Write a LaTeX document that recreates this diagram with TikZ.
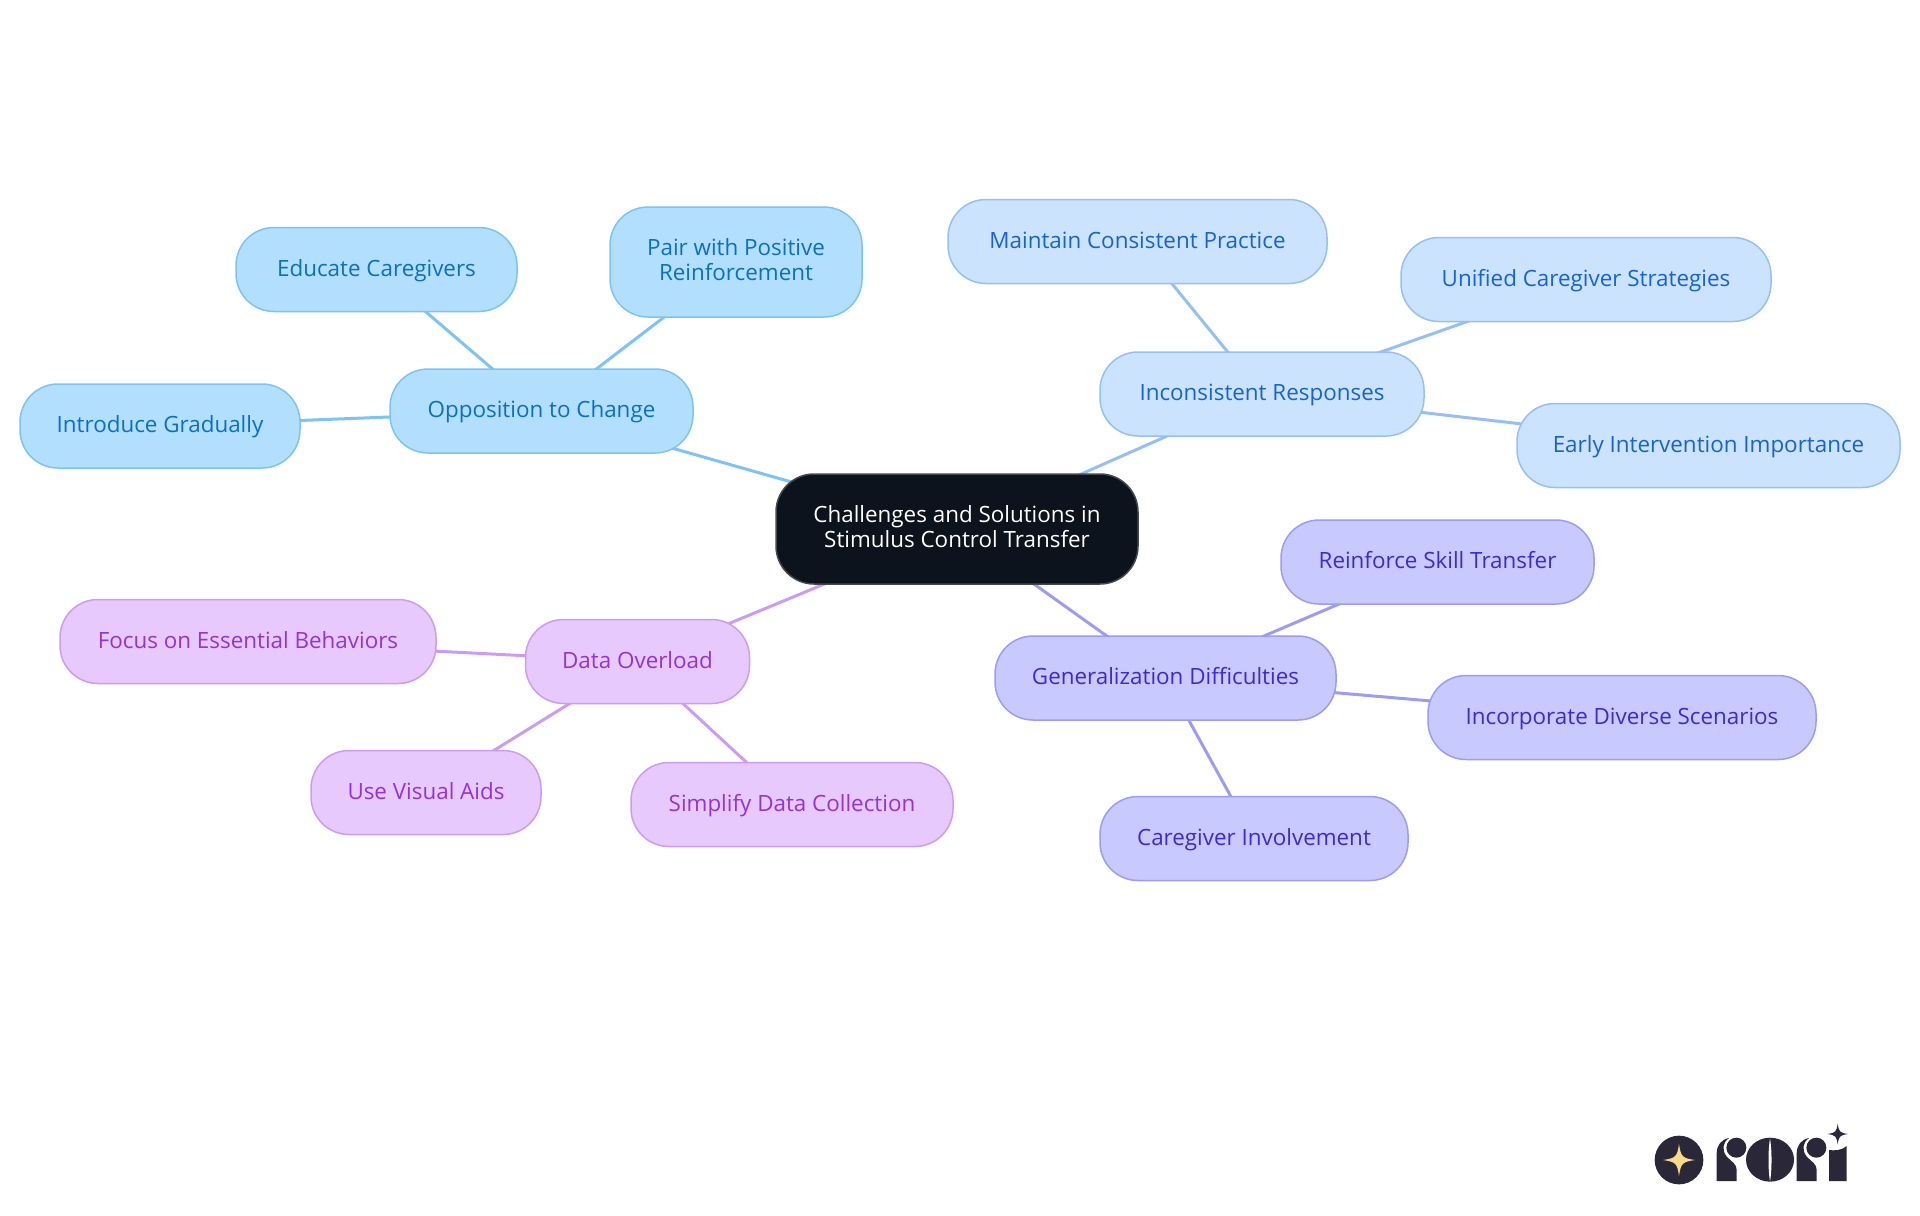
\documentclass[tikz,border=0pt]{standalone}
\usepackage{fontspec}
\setmainfont{Open Sans}
\usetikzlibrary{backgrounds}
\definecolor{sfill}{HTML}{B3DFFF}
\definecolor{sline}{HTML}{7FC3F3}
\definecolor{stext}{HTML}{0B6FC2}
\definecolor{ifill}{HTML}{CCE3FD}
\definecolor{iline}{HTML}{96C0F3}
\definecolor{itext}{HTML}{1763CF}
\definecolor{gfill}{HTML}{C8C9FE}
\definecolor{gline}{HTML}{9C9CF3}
\definecolor{gtext}{HTML}{3A2DD0}
\definecolor{dfill}{HTML}{E7C9FE}
\definecolor{dline}{HTML}{CC9CF3}
\definecolor{dtext}{HTML}{9333D8}
\definecolor{rootfill}{HTML}{0C131C}
\definecolor{rootline}{HTML}{45484D}
\definecolor{logoink}{HTML}{2A2838}
\definecolor{logostar}{HTML}{FBD98A}
\tikzset{
  mapnode/.style={rounded corners=19pt, line width=0.75pt, inner sep=0pt, align=center,
    font=\fontsize{11.2}{12.5}\selectfont, text height=8.75pt, text depth=2pt, minimum height=42pt},
  twolines/.style={text height=20.5pt, text depth=2pt, minimum height=55pt},
  rootnode/.style={mapnode, twolines, fill=rootfill, draw=rootline, text=white},
  oppnode/.style={mapnode, fill=sfill, draw=sline, text=stext},
  incnode/.style={mapnode, fill=ifill, draw=iline, text=itext},
  gennode/.style={mapnode, fill=gfill, draw=gline, text=gtext},
  datnode/.style={mapnode, fill=dfill, draw=dline, text=dtext},
  maplink/.style={line width=1.5pt}
}
\newcommand{\foursharp}[3]{% centre x, centre y, half size
  (#1-#3,#2) .. controls (#1-0.2*#3,#2-0.12*#3) and (#1-0.12*#3,#2-0.2*#3) .. (#1,#2-#3)
  .. controls (#1+0.12*#3,#2-0.2*#3) and (#1+0.2*#3,#2-0.12*#3) .. (#1+#3,#2)
  .. controls (#1+0.2*#3,#2+0.12*#3) and (#1+0.12*#3,#2+0.2*#3) .. (#1,#2+#3)
  .. controls (#1-0.12*#3,#2+0.2*#3) and (#1-0.2*#3,#2+0.12*#3) .. (#1-#3,#2) -- cycle}
\begin{document}
\begin{tikzpicture}[x=0.5pt,y=-0.5pt]
  \useasboundingbox (0,0) rectangle (1920,1215);
  \node [rootnode, minimum width=181pt] (root) at (957,529) {Challenges and Solutions in\\Stimulus Control Transfer};
  % opposition
  \node [oppnode, minimum width=151.5pt] (opp) at (541.5,411) {Opposition to Change};
  \node [oppnode, minimum width=140.5pt] (educate) at (376.5,269.5) {Educate Caregivers};
  \node [oppnode, twolines, minimum width=126pt] (pair) at (736,262) {Pair with Positive\\Reinforcement};
  \node [oppnode, minimum width=140pt] (intro) at (160,426) {Introduce Gradually};
  % inconsistent
  \node [incnode, minimum width=162pt] (incons) at (1262,394) {Inconsistent Responses};
  \node [incnode, minimum width=189.5pt] (maintain) at (1137.5,241.5) {Maintain Consistent Practice};
  \node [incnode, minimum width=185pt] (unified) at (1586,279.5) {Unified Caregiver Strategies};
  \node [incnode, minimum width=191.5pt] (early) at (1708.5,445.5) {Early Intervention Importance};
  % generalization
  \node [gennode, minimum width=170.5pt] (general) at (1165.5,678) {Generalization Difficulties};
  \node [gennode, minimum width=156.5pt] (reinforce) at (1437.5,562) {Reinforce Skill Transfer};
  \node [gennode, minimum width=194pt] (diverse) at (1622,717.5) {Incorporate Diverse Scenarios};
  \node [gennode, minimum width=154pt] (involve) at (1254,838.5) {Caregiver Involvement};
  % data
  \node [datnode, minimum width=112pt] (data) at (637.5,661.5) {Data Overload};
  \node [datnode, minimum width=188pt] (focus) at (248,641.5) {Focus on Essential Behaviors};
  \node [datnode, minimum width=115pt] (visual) at (426,792.5) {Use Visual Aids};
  \node [datnode, minimum width=161pt] (simplify) at (792,804.5) {Simplify Data Collection};
  \begin{scope}[on background layer]
    \foreach \a/\b/\c in {root/opp/sline, opp/educate/sline, opp/pair/sline, opp/intro/sline,
      root/incons/iline, incons/maintain/iline, incons/unified/iline, incons/early/iline,
      root/general/gline, general/reinforce/gline, general/diverse/gline, general/involve/gline,
      root/data/dline, data/focus/dline, data/visual/dline, data/simplify/dline}
      \draw [maplink, \c] (\a.center) -- (\b.center);
  \end{scope}
  % logo, in units of a third of a pixel
  \begin{scope}[shift={(1620,1100)}, x=0.16667pt, y=-0.16667pt]
    \fill [logoink] (177,180) circle [radius=73];
    \fill [logostar] \foursharp{177}{180}{48};
    \fill [logoink] (290,243) -- (290,160) .. controls (290,135) and (305,118) .. (327,114)
      .. controls (307,128) and (305,150) .. (320,170) .. controls (335,185) and (350,192) .. (350,210) -- (350,243) -- cycle;
    \fill [logoink] (349,143) circle [radius=30];
    \fill [logoink] (450,179) ellipse [x radius=72, y radius=66];
    \fill [white] (450,115) .. controls (444,150) and (444,210) .. (450,245) .. controls (456,210) and (456,150) .. (450,115) -- cycle;
    \fill [logoink] (530,243) -- (530,160) .. controls (530,135) and (545,118) .. (567,114)
      .. controls (547,128) and (545,150) .. (560,170) .. controls (575,185) and (590,192) .. (590,210) -- (590,243) -- cycle;
    \fill [logoink] (589,143) circle [radius=30];
    \fill [logoink] (627,243) -- (627,150) .. controls (642,152) and (665,152) .. (680,138) -- (680,243) -- cycle;
    \fill [logoink] \foursharp{653}{102}{31};
  \end{scope}
\end{tikzpicture}
\end{document}
